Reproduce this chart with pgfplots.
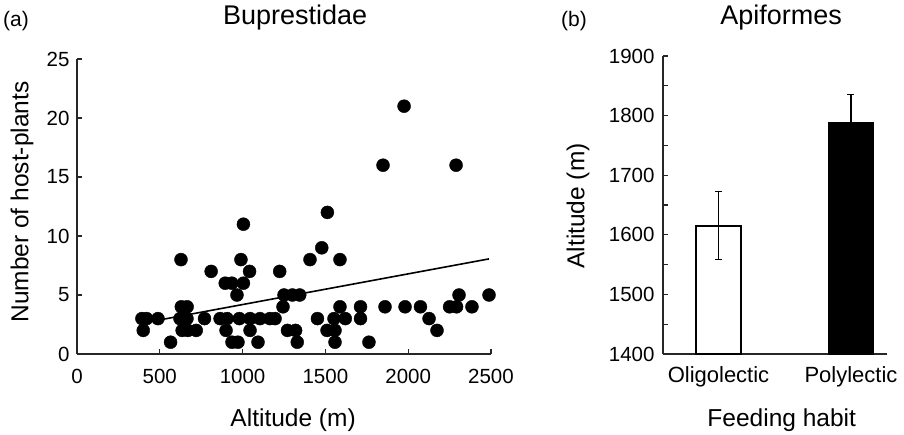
\documentclass[border=0pt]{standalone}
\usepackage{fontspec}
\setmainfont{Liberation Sans}
\usepackage{pgfplots}
\pgfplotsset{compat=1.18}
\pgfplotstableread{
x y
1975 21
1848 16
2289 16
1512 12
1005 11
1478 9
628 8
990 8
1407 8
1588 8
810 7
1042 7
1224 7
895 6
935 6
1005 6
966 5
1250 5
1300 5
1345 5
2307 5
2488 5
630 4
665 4
1244 4
1588 4
1712 4
1860 4
1981 4
2074 4
2250 4
2292 4
2385 4
392 3
420 3
489 3
622 3
664 3
770 3
864 3
906 3
980 3
1045 3
1105 3
1165 3
1196 3
1452 3
1552 3
1620 3
1712 3
2126 3
400 2
635 2
670 2
720 2
900 2
1045 2
1271 2
1320 2
1510 2
1558 2
2174 2
565 1
936 1
972 1
1093 1
1330 1
1558 1
1763 1
}\scatterdata
\pgfplotsset{
  mystyle/.style={
    scale only axis,
    axis lines*=left,
    tick align=inside,
    axis line style={line width=1.3pt, black!85},
    every tick/.style={line width=1.2pt, black!85},
    major tick length=5pt,
    minor tick length=5pt,
    tick label style={font=\fontsize{20.5}{24}\selectfont},
    label style={font=\fontsize{24.5}{28}\selectfont},
    title style={font=\fontsize{27}{31}\selectfont, anchor=base},
    /pgf/number format/assume math mode=true,
    /pgf/number format/1000 sep={},
  }
}
\begin{document}
\begin{tikzpicture}
\path[use as bounding box] (0,0) rectangle (904pt,434pt);
\node[anchor=base, font=\fontsize{21}{25}\selectfont] at (16pt,407pt) {(a)};
\node[anchor=base, font=\fontsize{21}{25}\selectfont] at (574pt,407pt) {(b)};
\begin{axis}[
  mystyle,
  at={(77pt,80pt)}, anchor=south west,
  width=414pt, height=295pt,
  xmin=0, xmax=2500, ymin=0, ymax=25,
  xtick={0,500,...,2500}, ytick={0,5,...,25},
  x tick label style={yshift=-12pt},
  y tick label style={xshift=-4pt},
  xlabel={Altitude (m)},
  ylabel={Number of host-plants},
  xlabel style={at={(axis description cs:0.522,-0.2237)}, anchor=center},
  ylabel style={at={(axis description cs:-0.1329,0.515)}, anchor=center},
  title={Buprestidae},
  title style={at={(axis description cs:0.527,1.098)}},
]
\addplot[line width=1.6pt, black] coordinates {(392,2.61) (2488,8.06)};
\addplot[only marks, mark=*, mark size=6.5pt, black] table[x=x, y=y] {\scatterdata};
\end{axis}
\begin{axis}[
  mystyle,
  at={(663pt,80pt)}, anchor=south west,
  width=224pt, height=298pt,
  xmin=0.581, xmax=2.272, ymin=1400, ymax=1900,
  ytick={1400,1500,...,1900},
  minor ytick={1450,1550,...,1850},
  xtick={1,2}, xticklabels={Oligolectic,Polylectic},
  x tick style={draw=none},
  x tick label style={yshift=-9pt, font=\fontsize{22}{26}\selectfont},
  y tick label style={xshift=-5pt},
  xlabel={Feeding habit},
  ylabel={Altitude (m)},
  xlabel style={at={(axis description cs:0.53,-0.2215)}, anchor=center},
  ylabel style={at={(axis description cs:-0.3795,0.497)}, anchor=center},
  title={Apiformes},
  title style={at={(axis description cs:0.527,1.087)}},
]
\addplot[ybar, bar width=45pt, bar shift=0pt, fill=white, draw=black, line width=1.3pt,
  error bars/.cd, y dir=both, y explicit,
  error bar style={line width=1.2pt, black},
  error mark options={rotate=90, line width=1.2pt, mark size=3.5pt, black}]
  coordinates {(1,1615) +- (0,57)};
\addplot[ybar, bar width=45pt, bar shift=0pt, fill=black, draw=black, line width=1.3pt,
  error bars/.cd, y dir=both, y explicit,
  error bar style={line width=1.2pt, black},
  error mark options={rotate=90, line width=1.2pt, mark size=3.5pt, black}]
  coordinates {(2,1788) +- (0,48)};
\end{axis}
\end{tikzpicture}
\end{document}
